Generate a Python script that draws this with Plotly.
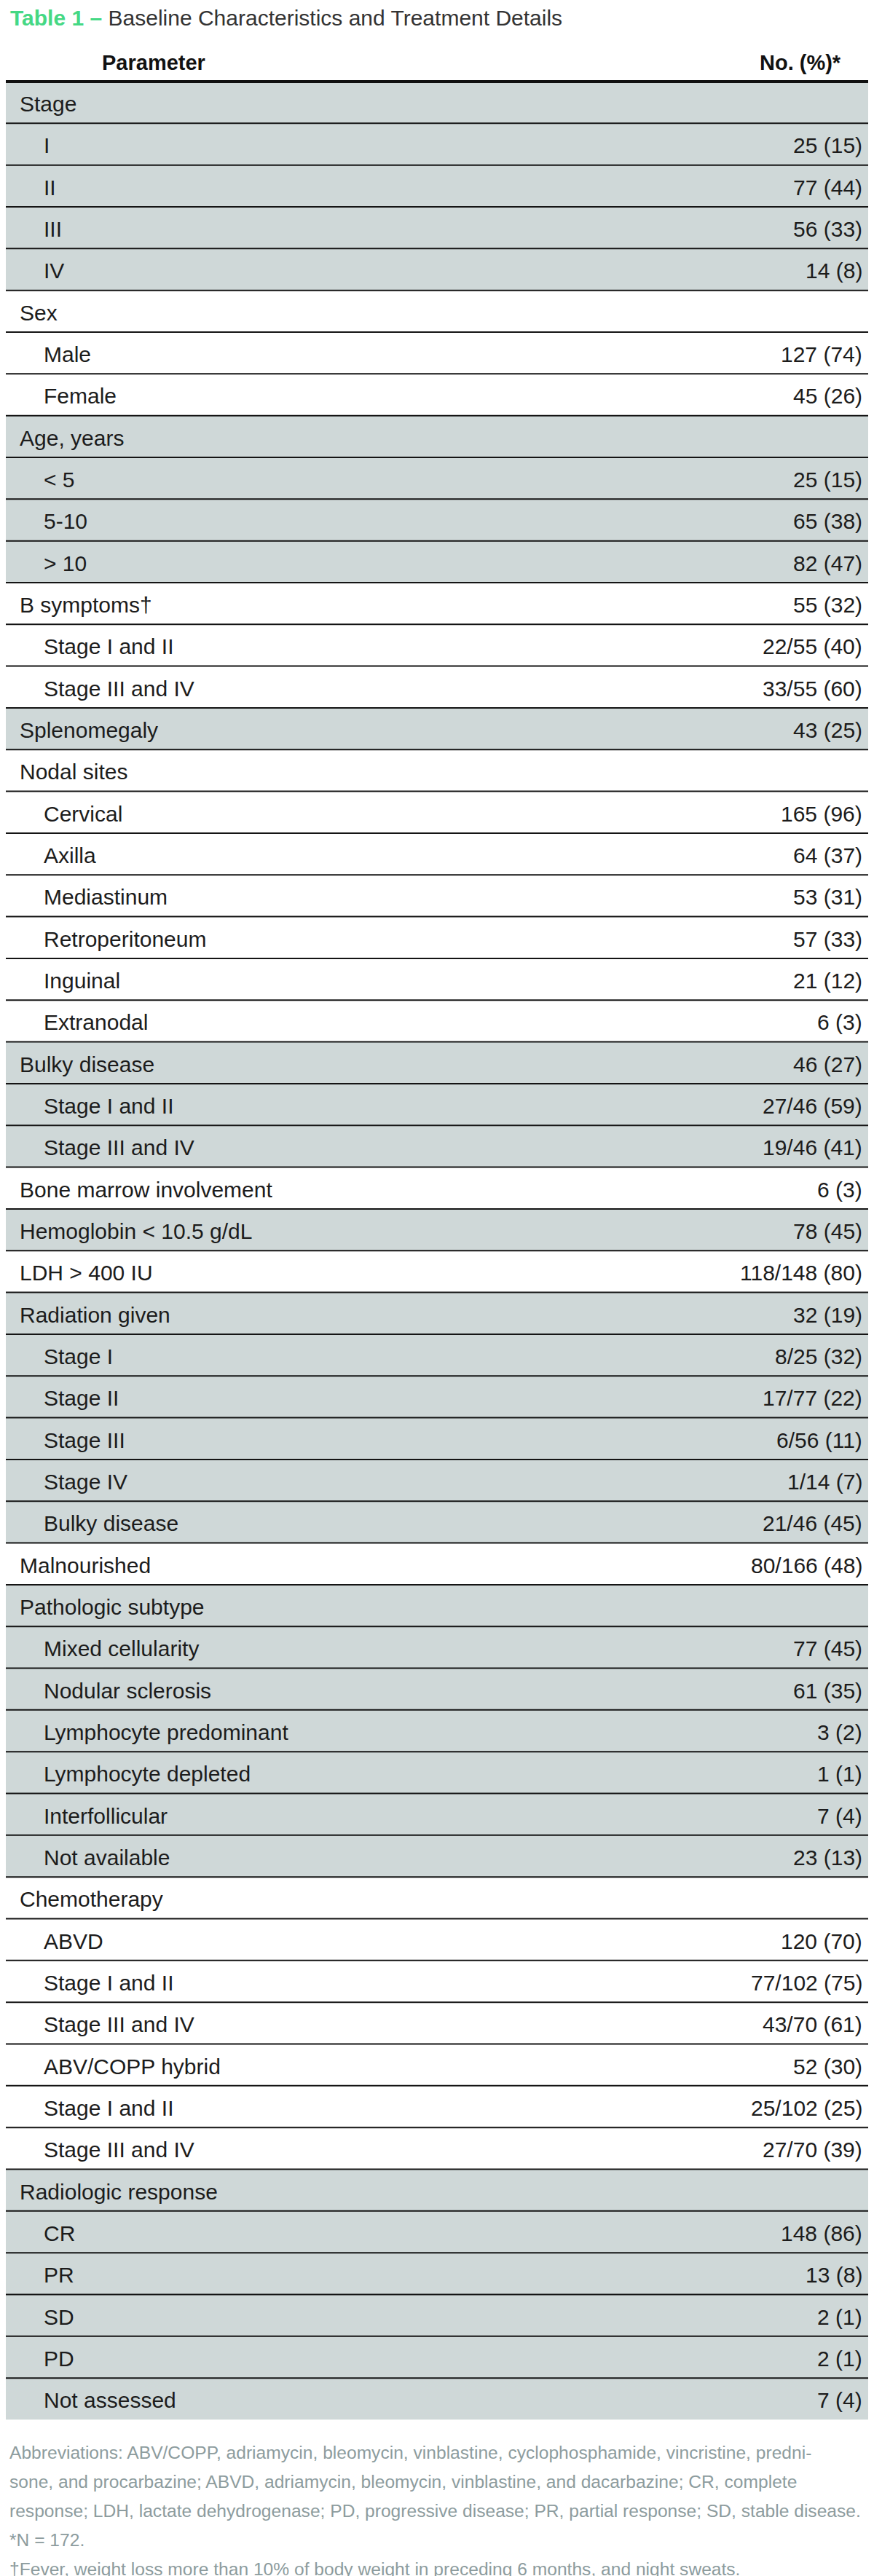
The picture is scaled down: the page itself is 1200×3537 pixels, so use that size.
import plotly.graph_objects as go

# ---------------- data ----------------
group_titles = ["Stage", "Sex", "Age, years", "B symptoms†", "Splenomegaly", "Nodal sites",
                "Bulky disease", "Bone marrow involvement", "Hemoglobin &lt; 10.5 g/dL",
                "LDH &gt; 400 IU", "Radiation given", "Malnourished", "Pathologic subtype",
                "Chemotherapy", "Radiologic response"]
group_values = ["", "", "", "55 (32)", "43 (25)", "", "46 (27)", "6 (3)", "78 (45)",
                "118/148 (80)", "32 (19)", "80/166 (48)", "", "", ""]
child_labels = [
    ["I", "II", "III", "IV"],
    ["Male", "Female"],
    ["&lt; 5", "5-10", "&gt; 10"],
    ["Stage I and II", "Stage III and IV"],
    [],
    ["Cervical", "Axilla", "Mediastinum", "Retroperitoneum", "Inguinal", "Extranodal"],
    ["Stage I and II", "Stage III and IV"],
    [],
    [],
    [],
    ["Stage I", "Stage II", "Stage III", "Stage IV", "Bulky disease"],
    [],
    ["Mixed cellularity", "Nodular sclerosis", "Lymphocyte predominant", "Lymphocyte depleted",
     "Interfollicular", "Not available"],
    ["ABVD", "Stage I and II", "Stage III and IV", "ABV/COPP hybrid", "Stage I and II",
     "Stage III and IV"],
    ["CR", "PR", "SD", "PD", "Not assessed"],
]
child_values = [
    ["25 (15)", "77 (44)", "56 (33)", "14 (8)"],
    ["127 (74)", "45 (26)"],
    ["25 (15)", "65 (38)", "82 (47)"],
    ["22/55 (40)", "33/55 (60)"],
    [],
    ["165 (96)", "64 (37)", "53 (31)", "57 (33)", "21 (12)", "6 (3)"],
    ["27/46 (59)", "19/46 (41)"],
    [],
    [],
    [],
    ["8/25 (32)", "17/77 (22)", "6/56 (11)", "1/14 (7)", "21/46 (45)"],
    [],
    ["77 (45)", "61 (35)", "3 (2)", "1 (1)", "7 (4)", "23 (13)"],
    ["120 (70)", "77/102 (75)", "43/70 (61)", "52 (30)", "25/102 (25)", "27/70 (39)"],
    ["148 (86)", "13 (8)", "2 (1)", "2 (1)", "7 (4)"],
]
header_labels = ["Parameter", "No. (%)*"]
title_prefix = "Table 1 –"
title_text = "Baseline Characteristics and Treatment Details"
footnotes = [
    "Abbreviations: ABV/COPP, adriamycin, bleomycin, vinblastine, cyclophosphamide, vincristine, predni-",
    "sone, and procarbazine; ABVD, adriamycin, bleomycin, vinblastine, and dacarbazine; CR, complete",
    "response; LDH, lactate dehydrogenase; PD, progressive disease; PR, partial response; SD, stable disease.",
    "*N = 172.",
    "†Fever, weight loss more than 10% of body weight in preceding 6 months, and night sweats.",
]

# ---------------- build rows ----------------
rows = []  # (label, value, level, group_index)
for g, (t, v) in enumerate(zip(group_titles, group_values)):
    rows.append((t, v, 0, g))
    for cl, cv in zip(child_labels[g], child_values[g]):
        rows.append((cl, cv, 1, g))
n_rows = len(rows)

W, H = 1200, 3537
FONT = "Liberation Sans, Arial, sans-serif"
SHADE = "#cfd8d8"
TXT = "#1c1c1c"
GRAY = "#8d9c9e"

top_px, row_px = 104.0, 57.33
y_bot = top_px + n_rows * row_px

fig = go.Figure()
# anchor trace (invisible) so axes exist
fig.add_trace(go.Scatter(x=[0, W], y=[-0.5, n_rows + 0.5], mode="markers",
                         marker=dict(opacity=0), hoverinfo="skip", showlegend=False))

shapes = []
annotations = []
for i, (lab, val, lvl, g) in enumerate(rows, start=1):
    if g % 2 == 0:
        shapes.append(dict(type="rect", xref="x", yref="y", x0=0, x1=1195, y0=i - 0.5, y1=i + 0.5,
                           fillcolor=SHADE, line=dict(width=0), layer="below"))
    if i < n_rows:
        shapes.append(dict(type="line", xref="x", yref="y", x0=0, x1=1195, y0=i + 0.5, y1=i + 0.5,
                           line=dict(color="#141414", width=2), layer="above"))
    annotations.append(dict(xref="x", yref="y", x=17 if lvl == 0 else 50, y=i, text=lab,
                            xanchor="left", yanchor="middle", showarrow=False, yshift=-2,
                            font=dict(family=FONT, size=30, color=TXT)))
    if val:
        annotations.append(dict(xref="x", yref="y", x=1178, y=i, text=val,
                                xanchor="right", yanchor="middle", showarrow=False, yshift=-2,
                                font=dict(family=FONT, size=30, color=TXT)))

# header
shapes.append(dict(type="line", xref="x", yref="y", x0=0, x1=1195, y0=0.5, y1=0.5,
                   line=dict(color="#111111", width=4), layer="above"))
annotations.append(dict(xref="x", yref="y", x=203, y=0, text="<b>%s</b>" % header_labels[0],
                        xanchor="center", yanchor="middle", showarrow=False, yshift=-3,
                        font=dict(family=FONT, size=29, color="#111111")))
annotations.append(dict(xref="x", yref="y", x=1149, y=0, text="<b>%s</b>" % header_labels[1],
                        xanchor="right", yanchor="middle", showarrow=False, yshift=-3,
                        font=dict(family=FONT, size=29, color="#111111")))

# title
annotations.append(dict(xref="paper", yref="paper", x=4 / W, y=1 - 16 / H,
                        text="<span style='color:#45d884'><b>%s</b></span> %s" % (title_prefix, title_text),
                        xanchor="left", yanchor="middle", showarrow=False,
                        font=dict(family=FONT, size=30, color="#333333")))

# footnotes
for k, line in enumerate(footnotes):
    annotations.append(dict(xref="paper", yref="paper", x=3 / W, y=1 - (3359 + 40 * k) / H,
                            text=line, xanchor="left", yanchor="middle", showarrow=False,
                            font=dict(family=FONT, size=24.6, color=GRAY)))

fig.update_layout(
    width=W, height=H, margin=dict(l=0, r=0, t=0, b=0),
    paper_bgcolor="white", plot_bgcolor="rgba(0,0,0,0)",
    shapes=shapes, annotations=annotations, showlegend=False,
    xaxis=dict(range=[0, W], domain=[0, 1], visible=False, fixedrange=True),
    yaxis=dict(range=[n_rows + 0.5, -0.5],
               domain=[1 - y_bot / H, 1 - (top_px - row_px) / H],
               visible=False, fixedrange=True),
)
fig.write_html("out.html")
